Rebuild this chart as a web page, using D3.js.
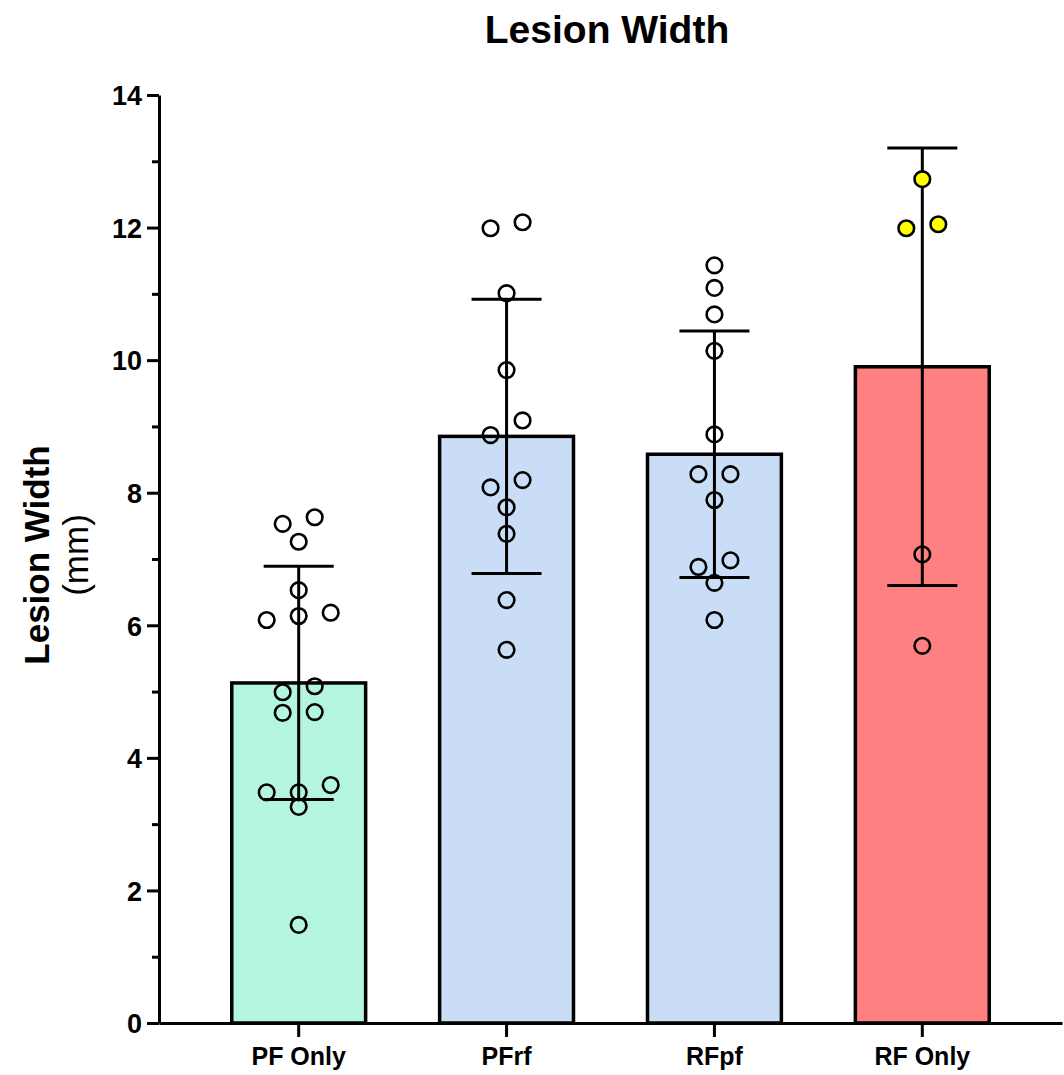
<!DOCTYPE html>
<html>
<head>
<meta charset="utf-8">
<script src="https://cdn.jsdelivr.net/npm/d3@7"></script>
<style>
  body { margin: 0; background: #fff; }
  text { font-family: Arial, "Liberation Sans", sans-serif; font-weight: bold; fill: #000; }
</style>
</head>
<body>
<svg id="chart"></svg>
<script>
const width = 1064;
const height = 1075;

// Data (mm)
const groups = ["PF Only", "PFrf", "RFpf", "RF Only"];
const means = [5.13, 8.85, 8.58, 9.90];
const sds = [1.76, 2.07, 1.86, 3.30];

const pfOnly = [7.63, 7.53, 7.26, 6.53, 6.14, 6.08, 6.19, 4.99, 5.08, 4.69, 4.68, 3.59, 3.48, 3.48, 3.26, 1.48];
const pfRf = [12.08, 11.99, 11.01, 9.85, 9.09, 8.87, 8.19, 8.08, 7.78, 7.38, 6.38, 5.63];
const rfPf = [11.43, 11.09, 10.69, 10.14, 8.88, 8.28, 8.28, 7.89, 6.98, 6.88, 6.64, 6.08];
const rfOnly = [12.73, 11.99, 12.05, 7.07, 5.69];
const rfOnlyFlagged = [true, true, true, false, false]; // yellow dots

const points = [pfOnly, pfRf, rfPf, rfOnly];
const barColors = ["#b4f5df", "#c9ddf6", "#c9ddf6", "#ff8080"];

var svg = d3.select("#chart")
    .attr("width", width)
    .attr("height", height);

var x = d3.scaleBand()
    .domain(groups)
    .range([159, 1062])
    .paddingInner(0.356)
    .paddingOuter(0.35);

var y = d3.scaleLinear()
    .domain([0, 14])
    .range([1023, 95]);

// Title
svg.append("text")
    .attr("x", 607)
    .attr("y", 43)
    .attr("text-anchor", "middle")
    .style("font-size", "39px")
    .text("Lesion Width");

// Y axis label
const ylab = svg.append("text")
    .attr("transform", "translate(49,555) rotate(-90)")
    .attr("text-anchor", "middle")
    .style("font-size", "35px");
ylab.append("tspan").attr("x", 0).text("Lesion Width");
ylab.append("tspan").attr("x", 0).attr("dy", 39).style("font-weight", "normal").text("(mm)");

// Bars
svg.append("g").selectAll("rect")
    .data(groups)
    .enter().append("rect")
    .attr("x", d => x(d))
    .attr("width", x.bandwidth())
    .attr("y", (d, i) => y(means[i]))
    .attr("height", (d, i) => y(0) - y(means[i]))
    .attr("fill", (d, i) => barColors[i])
    .attr("stroke", "#000")
    .attr("stroke-width", 3.5);

// Error bars (mean +/- SD)
const err = svg.append("g").attr("stroke", "#000").attr("stroke-width", 3);
groups.forEach((g, i) => {
    const cx = x(g) + x.bandwidth() / 2;
    err.append("line")
        .attr("x1", cx).attr("x2", cx)
        .attr("y1", y(means[i] + sds[i])).attr("y2", y(means[i] - sds[i]));
    [means[i] + sds[i], means[i] - sds[i]].forEach(v => {
        err.append("line")
            .attr("x1", cx - 35).attr("x2", cx + 35)
            .attr("y1", y(v)).attr("y2", y(v));
    });
});

// Group close values into rows and spread each row symmetrically
function spread(vals) {
    const idx = d3.range(vals.length).sort((a, b) => vals[b] - vals[a]);
    const offs = new Array(vals.length).fill(0);
    let row = [];
    const flush = () => {
        row.sort((a, b) => vals[a] - vals[b]);
        row.forEach((k, j) => { offs[k] = (j - (row.length - 1) / 2) * 32; });
        row = [];
    };
    idx.forEach(k => {
        if (row.length && y(vals[k]) - y(vals[row[0]]) > 16) flush();
        row.push(k);
    });
    flush();
    return offs;
}

const dots = svg.append("g");
groups.forEach((g, i) => {
    const cx = x(g) + x.bandwidth() / 2;
    const offs = spread(points[i]);
    dots.selectAll(null)
        .data(points[i])
        .enter().append("circle")
        .attr("cx", (d, j) => cx + offs[j])
        .attr("cy", d => y(d))
        .attr("r", 7.8)
        .attr("fill", (d, j) => (i === 3 && rfOnlyFlagged[j]) ? "#ffff00" : "none")
        .attr("stroke", "#000")
        .attr("stroke-width", 2.6);
});

// Y axis with minor ticks
const yAxis = svg.append("g")
    .attr("transform", "translate(159,0)")
    .call(d3.axisLeft(y).tickValues(d3.range(0, 15, 2)).tickSize(12).tickSizeOuter(0).tickPadding(5));
yAxis.select(".domain").attr("stroke-width", 3);
yAxis.selectAll(".tick line").attr("stroke-width", 3);
yAxis.selectAll(".tick text").style("font-size", "27px").attr("dy", "0.36em");

const yMinor = svg.append("g")
    .attr("transform", "translate(159,0)")
    .call(d3.axisLeft(y).tickValues(d3.range(1, 14, 2)).tickSize(7).tickFormat(""));
yMinor.select(".domain").remove();
yMinor.selectAll(".tick line").attr("stroke-width", 3);

// X axis
const xAxis = svg.append("g")
    .attr("transform", "translate(0,1023)")
    .call(d3.axisBottom(x).tickSize(14).tickSizeOuter(0).tickPadding(10));
xAxis.select(".domain").attr("stroke-width", 3);
xAxis.selectAll(".tick line").attr("stroke-width", 3);
xAxis.selectAll(".tick text").style("font-size", "25px");
</script>
</body>
</html>
